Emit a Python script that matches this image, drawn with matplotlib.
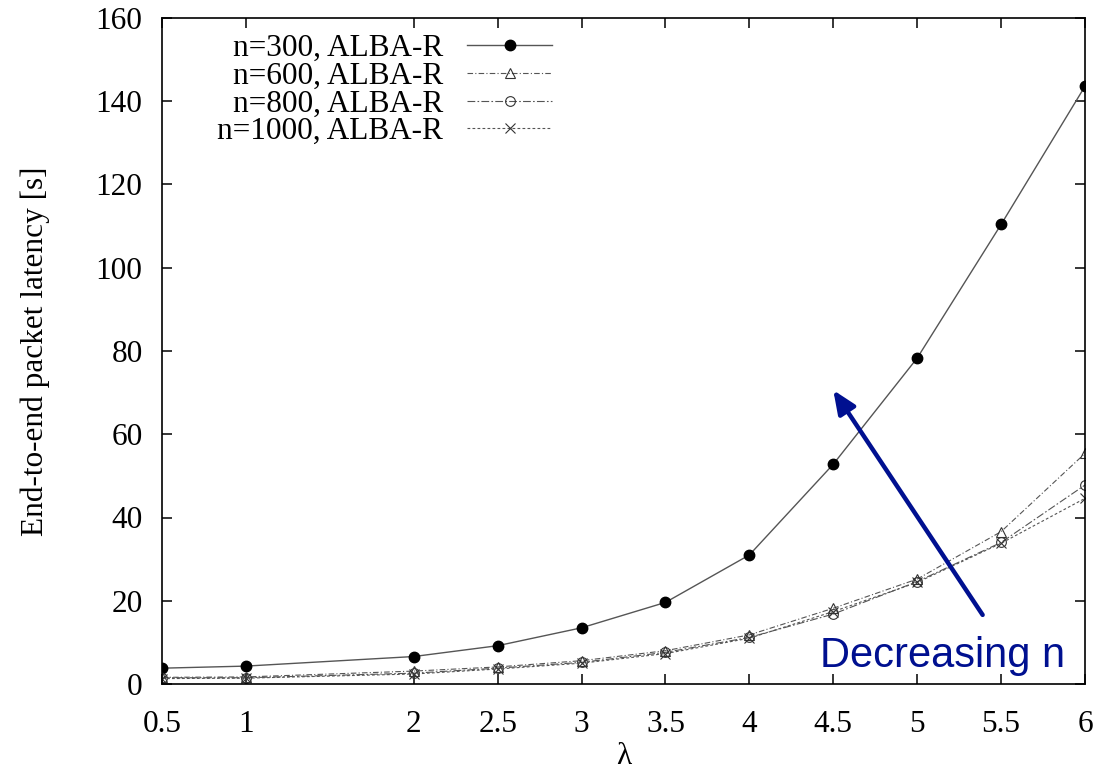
import matplotlib
matplotlib.use("Agg")
import matplotlib.pyplot as plt
import numpy as np

# arrival rate and mean end-to-end latency per network size
lam = [0.5, 1, 2, 2.5, 3, 3.5, 4, 4.5, 5, 5.5, 6]
lat_n300 = [3.8, 4.3, 6.6, 9.2, 13.5, 19.6, 31.0, 52.8, 78.3, 110.4, 143.6]
lat_n600 = [1.6, 1.7, 3.1, 4.1, 5.6, 8.0, 11.8, 18.2, 25.2, 36.6, 55.4]
lat_n800 = [1.5, 1.5, 2.6, 3.8, 5.2, 7.6, 11.2, 16.8, 24.6, 34.0, 47.8]
lat_n1000 = [1.3, 1.4, 2.4, 3.6, 5.0, 7.3, 11.0, 17.4, 24.4, 33.8, 44.6]
labels = ['n=300, ALBA-R', 'n=600, ALBA-R', 'n=800, ALBA-R', 'n=1000, ALBA-R']

serif = 'Liberation Serif'
fs = 22.5

fig = plt.figure(figsize=(11.06, 7.75), dpi=100)
ax = fig.add_axes([162/1106, 1-684/775, (1085-162)/1106, (684-18)/775])

ax.plot(lam, lat_n300, '-', color='#555555', lw=1.0, marker='o', ms=7.5,
        mfc='black', mec='black', label=labels[0])
ax.plot(lam, lat_n600, color='#555555', lw=0.8, dashes=(5, 2, 1, 2), marker='^', ms=7,
        mfc='none', mec='#333333', mew=0.8, label=labels[1])
ax.plot(lam, lat_n800, color='#555555', lw=0.8, dashes=(7, 2, 1.5, 2), marker='o', ms=7,
        mfc='none', mec='#333333', mew=0.8, label=labels[2])
ax.plot(lam, lat_n1000, color='#555555', lw=0.8, dashes=(2.5, 2), marker='x', ms=7,
        mec='#333333', mew=0.8, label=labels[3])

ax.set_xlim(0.5, 6)
ax.set_ylim(0, 160)
ax.set_xticks(lam)
ax.set_xticklabels(['0.5', '1', '2', '2.5', '3', '3.5', '4', '4.5', '5', '5.5', '6'])
ax.set_yticks(np.arange(0, 161, 20))
ax.tick_params(direction='in', length=7, width=1.1, top=True, right=True,
               labelsize=fs)
ax.tick_params(axis='x', pad=19)
ax.tick_params(axis='y', pad=14)
for lab in ax.get_xticklabels() + ax.get_yticklabels():
    lab.set_family(serif)
for sp in ax.spines.values():
    sp.set_linewidth(1.2)

ax.set_xlabel('λ', fontsize=fs, family=serif, labelpad=2)
ax.set_ylabel('End-to-end packet latency [s]', fontsize=fs, family=serif, labelpad=33)

leg = ax.legend(loc='upper right', bbox_to_anchor=(552/1106, 1-34/775),
                bbox_transform=fig.transFigure, frameon=False, markerfirst=False,
                handlelength=2.72, handletextpad=0.77, labelspacing=-0.04,
                borderpad=0, borderaxespad=0, prop={'family': serif, 'size': fs})

# annotation: arrow and caption
navy = '#001090'
ax.annotate('', xy=(4.50, 70.6), xytext=(5.39, 16.6),
            arrowprops=dict(arrowstyle='-|>,head_length=1.4,head_width=0.6',
                            color=navy, lw=3.2, shrinkA=0, shrinkB=0))
ax.text(5.15, 4.0, 'Decreasing n', color=navy, fontsize=30,
        family='Liberation Sans', ha='center', va='baseline')

fig.savefig('out.png', dpi=100)
